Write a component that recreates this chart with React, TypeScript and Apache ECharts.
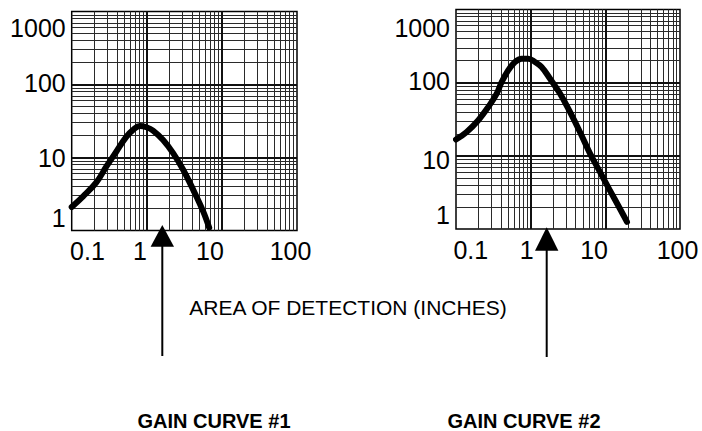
import React, { useEffect, useRef } from 'react';
import * as echarts from 'echarts';

// ---- data ----
const xTickLabels = ['0.1', '1', '10', '100'];
const yTickLabels = ['1', '10', '100', '1000'];

const curve1X = [0.1, 0.142, 0.213, 0.29, 0.394, 0.536, 0.657, 0.807, 0.99, 1.21, 1.65, 2.24, 3.05, 4.14, 5.63, 6.78];
const curve1Y = [2.1, 2.94, 4.56, 7.54, 12.1, 19.3, 23.9, 27.1, 26.0, 23.4, 17.4, 11.5, 6.8, 3.63, 1.83, 1.09];

const curve2X = [0.1, 0.139, 0.199, 0.271, 0.351, 0.409, 0.502, 0.617, 0.757, 0.93, 1.14, 1.4, 1.81, 2.47, 3.36, 4.57, 6.22, 8.47, 11.5, 15.7, 19.5];
const curve2Y = [16.7, 21.2, 30.7, 46.6, 71, 102, 148, 192, 213, 213, 192, 164, 114, 71, 39.8, 21.2, 10.8, 6.04, 3.38, 1.89, 1.25];

const xDecadeStarts = [0.1, 1, 10];
const yDecadeStarts = [1, 10, 100];
const gridMultipliers = [1, 2, 3, 4, 5, 6, 7, 8, 9];

const axisTitle = 'AREA OF DETECTION (INCHES)';
const chartTitles = ['GAIN CURVE #1', 'GAIN CURVE #2'];

// ---- layout / style ----
const FONT = 'Arial, "Liberation Sans", Helvetica, sans-serif';

const layouts = [
  {
    left: 71.7, top: 11.5, width: 225.3, height: 219,
    xPad: [[0, 0, 0, 31.6], [0, 13.6, 0, 0], [0, 23.8, 0, 0], [0, 13, 0, 0]],
    yPad: [[0, 0, 26, 0], [0, 0, 0, 0], [0, 0, 2.4, 0], [32, 0, 0, 0]],
  },
  {
    left: 456, top: 9.5, width: 224, height: 219.5,
    xPad: [[0, 0, 0, 29.6], [0, 8, 0, 0], [0, 22.6, 0, 0], [0, 5, 0, 0]],
    yPad: [[0, 0, 28, 0], [8.6, 0, 0, 0], [0, 0, 2.6, 0], [37.6, 0, 0, 0]],
  },
];

function richFor(pads: number[][]) {
  const r: Record<string, any> = {};
  pads.forEach((p, i) => {
    r['t' + i] = { fontSize: 25, fontFamily: FONT, color: '#000', padding: p };
  });
  return r;
}

function gridLineData(starts: number[], key: 'xAxis' | 'yAxis') {
  const minor: any[] = [];
  const major: any[] = [];
  starts.forEach((d, di) => {
    gridMultipliers.forEach((m) => {
      const v = d * m;
      if (m === 1) {
        if (di > 0) major.push({ [key]: v });
      } else {
        minor.push({ [key]: v });
      }
    });
  });
  return { minor, major };
}

function buildOption() {
  const grids: any[] = [];
  const xAxes: any[] = [];
  const yAxes: any[] = [];
  const series: any[] = [];
  const curves = [
    { xs: curve1X, ys: curve1Y },
    { xs: curve2X, ys: curve2Y },
  ];
  const xLines = gridLineData(xDecadeStarts, 'xAxis');
  const yLines = gridLineData(yDecadeStarts, 'yAxis');

  layouts.forEach((L, gi) => {
    grids.push({
      left: L.left, top: L.top, width: L.width, height: L.height,
      show: true, borderColor: '#000', borderWidth: 1.5, backgroundColor: 'transparent',
    });
    xAxes.push({
      type: 'log', gridIndex: gi, min: 0.1, max: 100, logBase: 10,
      axisLine: { show: false }, axisTick: { show: false }, splitLine: { show: false },
      axisLabel: {
        show: true, margin: 8, fontSize: 25, fontFamily: FONT, color: '#000',
        showMinLabel: true, showMaxLabel: true,
        formatter: (v: number) => {
          const i = Math.round(Math.log10(v)) + 1;
          return '{t' + i + '|' + xTickLabels[i] + '}';
        },
        rich: richFor(L.xPad),
      },
    });
    yAxes.push({
      type: 'log', gridIndex: gi, min: 1, max: 1000, logBase: 10,
      axisLine: { show: false }, axisTick: { show: false }, splitLine: { show: false },
      axisLabel: {
        show: true, margin: 6, fontSize: 25, fontFamily: FONT, color: '#000',
        showMinLabel: true, showMaxLabel: true,
        formatter: (v: number) => {
          const i = Math.round(Math.log10(v));
          return '{t' + i + '|' + yTickLabels[i] + '}';
        },
        rich: richFor(L.yPad),
      },
    });
    // minor grid lines
    series.push({
      type: 'line', xAxisIndex: gi, yAxisIndex: gi, data: [], z: 1, silent: true,
      markLine: {
        silent: true, symbol: ['none', 'none'], label: { show: false }, animation: false,
        lineStyle: { color: '#2a2a2a', width: 1, type: 'solid' },
        emphasis: { disabled: true },
        data: [...xLines.minor, ...yLines.minor],
      },
    });
    // decade grid lines
    series.push({
      type: 'line', xAxisIndex: gi, yAxisIndex: gi, data: [], z: 2, silent: true,
      markLine: {
        silent: true, symbol: ['none', 'none'], label: { show: false }, animation: false,
        lineStyle: { color: '#111', width: 2, type: 'solid' },
        emphasis: { disabled: true },
        data: [...xLines.major, ...yLines.major],
      },
    });
    const c = curves[gi];
    series.push({
      type: 'line', xAxisIndex: gi, yAxisIndex: gi, z: 5,
      data: c.xs.map((x, k) => [x, c.ys[k]]),
      smooth: 0.4, showSymbol: false, symbol: 'none',
      lineStyle: { color: '#000', width: 6, cap: 'round', join: 'round' },
      silent: true,
    });
  });

  const arrow = (x: number, tipY: number, baseY: number, halfW: number, endY: number) => [
    {
      type: 'polygon', silent: true,
      shape: { points: [[x, tipY], [x - halfW, baseY], [x + halfW, baseY]] },
      style: { fill: '#000' },
    },
    {
      type: 'line', silent: true,
      shape: { x1: x, y1: baseY - 1, x2: x, y2: endY },
      style: { stroke: '#000', lineWidth: 2 },
    },
  ];

  const graphic: any[] = [
    ...arrow(162.3, 225, 246.7, 11.7, 356),
    ...arrow(546.7, 227.3, 250.7, 11.7, 357),
    {
      type: 'text', silent: true, x: 348, y: 307,
      style: {
        text: axisTitle, fill: '#000', font: '21px ' + FONT,
        align: 'center', verticalAlign: 'middle',
      },
    },
    {
      type: 'text', silent: true, x: 214, y: 421,
      style: {
        text: chartTitles[0], fill: '#000', font: 'bold 20px ' + FONT,
        align: 'center', verticalAlign: 'middle',
      },
    },
    {
      type: 'text', silent: true, x: 524, y: 421,
      style: {
        text: chartTitles[1], fill: '#000', font: 'bold 20px ' + FONT,
        align: 'center', verticalAlign: 'middle',
      },
    },
  ];

  return {
    animation: false,
    backgroundColor: '#fff',
    grid: grids,
    xAxis: xAxes,
    yAxis: yAxes,
    series,
    graphic,
  };
}

export default function App() {
  const ref = useRef<HTMLDivElement>(null);
  useEffect(() => {
    if (!ref.current) return;
    const chart = echarts.init(ref.current, undefined, { renderer: 'svg' });
    chart.setOption(buildOption() as any);
    return () => chart.dispose();
  }, []);
  return (
    <div
      ref={ref}
      style={{ position: 'fixed', left: 0, top: 0, width: 702, height: 431, background: '#fff' }}
    />
  );
}
